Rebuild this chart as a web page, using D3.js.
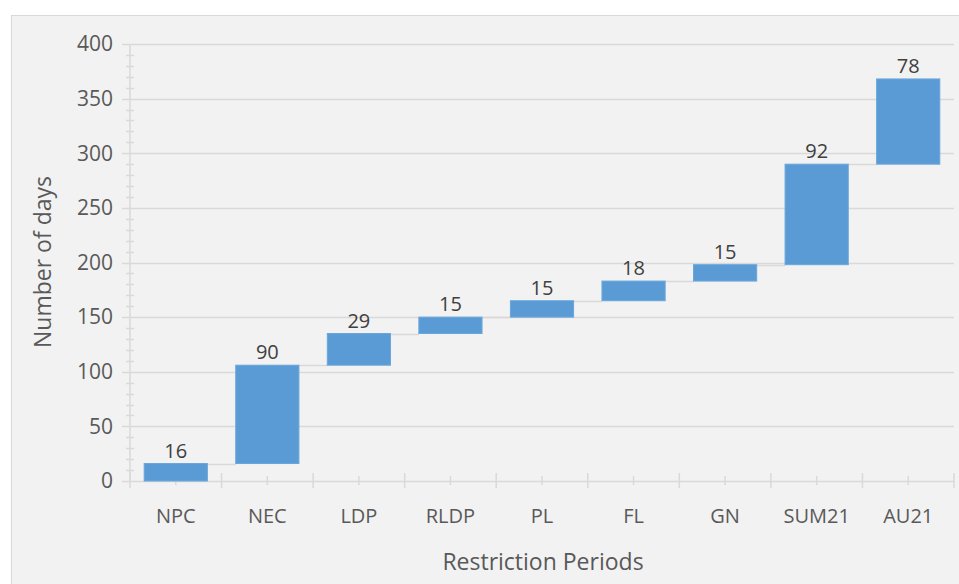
<!DOCTYPE html>
<html>
<head>
<meta charset="utf-8">
<script src="https://cdn.jsdelivr.net/npm/d3@7"></script>
<style>
  body { margin: 0; background: #ffffff; }
  svg { display: block; font-family: "Open Sans", "Noto Sans", sans-serif; }
</style>
</head>
<body>
<svg id="chart" width="959" height="584"></svg>
<script>
// waterfall: each bar starts where the previous one ended
var categories = ["NPC", "NEC", "LDP", "RLDP", "PL", "FL", "GN", "SUM21", "AU21"];
var values = [16, 90, 29, 15, 15, 18, 15, 92, 78];
var yTicks = [0, 50, 100, 150, 200, 250, 300, 350, 400];

(function() {
var svg = d3.select("#chart");
var W = 959, H = 584;

var pLeft = 130, pRight = 954, pTop = 44, pBottom = 481;
var gridColor = "#d9d9d9";

// panel background
svg.append("rect")
    .attr("x", 11.5).attr("y", 15.5)
    .attr("width", W).attr("height", H)
    .attr("fill", "#f2f2f2")
    .attr("stroke", "#d9d9d9");

var x = d3.scaleBand()
    .domain(categories)
    .range([pLeft, pRight])
    .paddingInner(0.31)
    .paddingOuter(0.155);

var y = d3.scaleLinear().domain([0, 400]).range([pBottom, pTop]);

var step = x.step();

// running totals
var rows = [];
var acc = 0;
categories.forEach(function(c, i) {
    rows.push({ cat: c, v: values[i], start: acc, end: acc + values[i] });
    acc += values[i];
});

function py(v) { return Math.round(y(v)) + 0.5; }

// gridlines
svg.append("g").selectAll("line").data(yTicks.slice(1)).enter().append("line")
    .attr("x1", 122).attr("x2", pRight)
    .attr("y1", function(d) { return py(d); })
    .attr("y2", function(d) { return py(d); })
    .attr("stroke", gridColor).attr("stroke-width", 1.5);

// minor y ticks
var minor = d3.range(0, 401, 10).filter(function(d) { return d % 50 !== 0; });
svg.append("g").selectAll("line").data(minor).enter().append("line")
    .attr("x1", 126).attr("x2", 134)
    .attr("y1", function(d) { return py(d); })
    .attr("y2", function(d) { return py(d); })
    .attr("stroke", gridColor).attr("stroke-width", 1.5);

// y axis line
svg.append("line")
    .attr("x1", pLeft).attr("x2", pLeft).attr("y1", pTop).attr("y2", pBottom)
    .attr("stroke", gridColor).attr("stroke-width", 1.5);

// y tick labels
svg.append("g").selectAll("text").data(yTicks).enter().append("text")
    .attr("x", 113)
    .attr("y", function(d) { return y(d); })
    .attr("dy", "0.35em")
    .attr("text-anchor", "end")
    .attr("font-size", 21)
    .attr("fill", "#595959")
    .text(function(d) { return d; });

// connectors between bars
svg.append("g").selectAll("line").data(rows.slice(0, -1)).enter().append("line")
    .attr("x1", function(d) { return x(d.cat) + x.bandwidth(); })
    .attr("x2", function(d, i) { return x(categories[i + 1]); })
    .attr("y1", function(d) { return py(d.end); })
    .attr("y2", function(d) { return py(d.end); })
    .attr("stroke", gridColor).attr("stroke-width", 1.5);

// x axis line
svg.append("line")
    .attr("x1", 122).attr("x2", pRight)
    .attr("y1", pBottom + 0.5).attr("y2", pBottom + 0.5)
    .attr("stroke", gridColor).attr("stroke-width", 1.5);

// x ticks: major at band edges, minor at centres
var edges = d3.range(categories.length + 1).map(function(i) { return pLeft + i * step; });
svg.append("g").selectAll("line").data(edges).enter().append("line")
    .attr("x1", function(d) { return d; }).attr("x2", function(d) { return d; })
    .attr("y1", 473).attr("y2", 488)
    .attr("stroke", gridColor).attr("stroke-width", 1.5);
svg.append("g").selectAll("line").data(categories).enter().append("line")
    .attr("x1", function(d) { return x(d) + x.bandwidth() / 2; })
    .attr("x2", function(d) { return x(d) + x.bandwidth() / 2; })
    .attr("y1", 476).attr("y2", 485)
    .attr("stroke", gridColor).attr("stroke-width", 1.5);

// bars
svg.append("g").selectAll("rect").data(rows).enter().append("rect")
    .attr("x", function(d) { return x(d.cat); })
    .attr("width", x.bandwidth())
    .attr("y", function(d) { return y(d.end); })
    .attr("height", function(d) { return y(d.start) - y(d.end); })
    .attr("fill", "#5b9bd5")
    .attr("stroke", "#6aa6dc").attr("stroke-width", 1);

// value labels
svg.append("g").selectAll("text").data(rows).enter().append("text")
    .attr("x", function(d) { return x(d.cat) + x.bandwidth() / 2; })
    .attr("y", function(d) { return y(d.end) - 6; })
    .attr("text-anchor", "middle")
    .attr("font-size", 20)
    .attr("fill", "#404040")
    .text(function(d) { return d.v; });

// category labels
svg.append("g").selectAll("text").data(categories).enter().append("text")
    .attr("x", function(d) { return x(d) + x.bandwidth() / 2; })
    .attr("y", 516)
    .attr("dy", "0.35em")
    .attr("text-anchor", "middle")
    .attr("font-size", 20)
    .attr("fill", "#595959")
    .text(function(d) { return d; });

// axis titles
svg.append("text")
    .attr("x", 543).attr("y", 562).attr("dy", "0.35em")
    .attr("text-anchor", "middle")
    .attr("font-size", 23)
    .attr("fill", "#595959")
    .text("Restriction Periods");

svg.append("text")
    .attr("transform", "translate(43,262) rotate(-90)")
    .attr("dy", "0.35em")
    .attr("text-anchor", "middle")
    .attr("font-size", 23)
    .attr("fill", "#595959")
    .text("Number of days");
})();
</script>
</body>
</html>
